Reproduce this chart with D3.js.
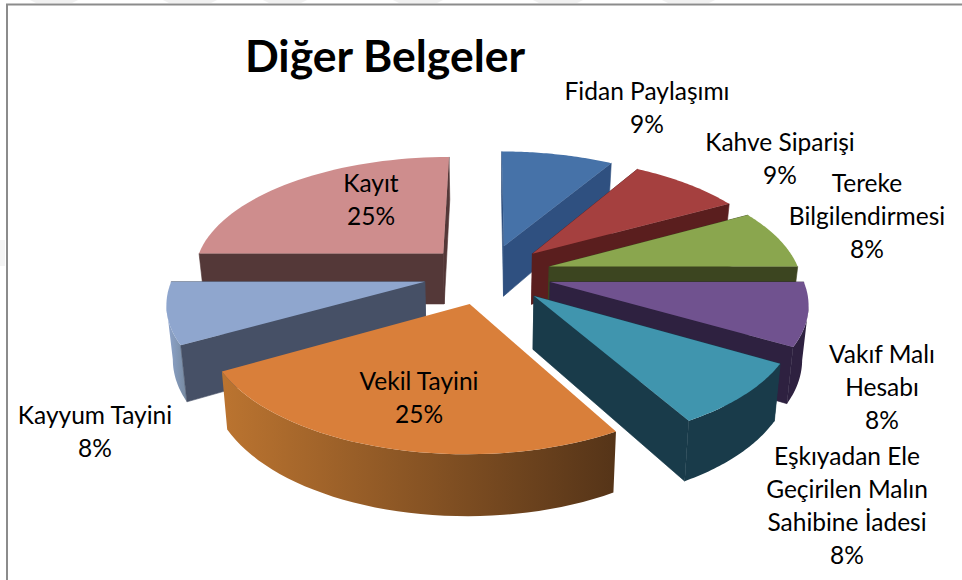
<!DOCTYPE html>
<html lang="tr">
<head>
<meta charset="utf-8">
<script src="https://cdn.jsdelivr.net/npm/d3@7/dist/d3.min.js"></script>
<style>
html,body{margin:0;padding:0;background:#fff;overflow:hidden}
svg{display:block}
text{font-family:Lato,"Open Sans",sans-serif;fill:#000}
</style>
</head>
<body>
<svg id="chart" width="962" height="580"></svg>
<script>
// --- data ---
const titleText = "Diğer Belgeler";
const categories = [
  ["Fidan Paylaşımı"],
  ["Kahve Siparişi"],
  ["Tereke","Bilgilendirmesi"],
  ["Vakıf Malı","Hesabı"],
  ["Eşkıyadan Ele","Geçirilen Malın","Sahibine İadesi"],
  ["Vekil Tayini"],
  ["Kayyum Tayini"],
  ["Kayıt"]
];
const shares = [8.5, 8.5, 8.0, 8.4, 8.4, 25, 8.2, 25];

// --- palette ---
const topColors   = ["#4672a8","#a5403f","#8aa64e","#70528f","#4095ae","#d97f3a","#8fa6ce","#ce8d8d"];
const sideColors  = ["#2f5080","#5a1e1e","#3c4520","#2e2140","#193b4a","#d97f3a","#465066","#543838"];
const rimLeft     = ["#2f5080","#5a1e1e","#3c4520","#2e2140","#193b4a","#bb7430","#8fa6ce","#543838"];
const rimRight    = ["#2f5080","#5a1e1e","#3c4520","#2e2140","#193b4a","#553418","#76899f","#543838"];

// --- layout ---
const W = 962, H = 580;
const labelCentres = [[647,92],[780,143],[867,184],[882,355],[847,457],[419,382],[95,416],[371,184]];
const lineStep = 33;
const paintOrder = [7,0,1,2,6,3,4,5];
const cx = 487.5, cy = 274, radius = 251, explode = 0.256, tiltA = 117, persp = 0.153;
const faintBands = [[30,78],[163,217],[263,307],[393,443],[533,583],[662,715]];

const svg = d3.select("#chart");
const defs = svg.append("defs");

// frame and the faint marks outside it
svg.append("rect").attr("width",W).attr("height",H).attr("fill","#fff");
svg.append("g").selectAll("path").data(faintBands).join("path")
  .attr("d",d=>`M${d[0]} 0H${d[1]}L${d[1]-6} 3H${d[0]+6}Z`).attr("fill","#f1f1f1");
svg.append("path").attr("d","M0 240H5V266H0Z").attr("fill","#f4f4f4");
svg.append("path").attr("d",`M7 ${H}V4.5H${W}`).attr("fill","none").attr("stroke","#8c8c8c").attr("stroke-width",2);

const pie = d3.pie().sort(null).value(d=>d).startAngle(0).endAngle(2*Math.PI);
const arcs = pie(shares);

// world (unit disc, +y toward viewer) -> screen
const sx = d3.scaleLinear().domain([0,1]).range([cx,cx+radius]);
function proj(x,t){
  const s = 1/(1-persp*t);
  return [sx(x*s), cy + tiltA*t*s];
}
function projBottom(x,t){
  const p = proj(x,t);
  const depth = 52 + 8*t;
  return [cx+(p[0]-cx)*0.98, p[1]+depth];
}
const line = d3.line();

arcs.forEach(a=>{
  const mid = (a.startAngle+a.endAngle)/2;
  const ox = explode*Math.sin(mid), oy = -explode*Math.cos(mid);
  const polar = (ang)=>[ox+Math.sin(ang), oy-Math.cos(ang)];
  a.tip = [ox,oy];
  a.rim = d3.range(0,41).map(j=>polar(a.startAngle+(a.endAngle-a.startAngle)*j/40));
  a.polar = polar;
});

const gSlices = svg.append("g");
paintOrder.forEach(idx=>{
  const a = arcs[idx];
  const g = gSlices.append("g");
  const top = p=>proj(p[0],p[1]);
  const bot = p=>projBottom(p[0],p[1]);
  const first = a.rim[0], last = a.rim[a.rim.length-1];

  const wall = (p)=>{
    g.append("path")
      .attr("d",line([top(a.tip),top(p),bot(p),bot(a.tip)])+"Z")
      .attr("fill",sideColors[idx])
      .attr("stroke",sideColors[idx]).attr("stroke-width",0.6);
  };
  const startFacing = -Math.cos(a.startAngle-Math.PI/2) > 0;
  const endFacing = -Math.cos(a.endAngle+Math.PI/2) > 0;
  if(!startFacing && idx!==5) wall(first);
  if(!endFacing && idx!==5) wall(last);

  // rim wall: only the part between the silhouette tangents of its front half
  const lo = Math.max(a.startAngle, Math.PI/2), hi = Math.min(a.endAngle, 3*Math.PI/2);
  if(hi>lo){
    const pts = d3.range(0,41).map(j=>a.polar(lo+(hi-lo)*j/40));
    const all = pts.map(top);
    const iR = d3.maxIndex(all,p=>p[0]), iL = d3.minIndex(all,p=>p[0]);
    const span = pts.slice(Math.min(iR,iL), Math.max(iR,iL)+1);
    const upper = span.map(top), lower = span.map(bot);
    const xs = upper.concat(lower).map(p=>p[0]);
    const gid = "rim"+idx;
    const lg = defs.append("linearGradient").attr("id",gid)
      .attr("gradientUnits","userSpaceOnUse")
      .attr("x1",d3.min(xs)).attr("x2",d3.max(xs)).attr("y1",0).attr("y2",0);
    lg.append("stop").attr("offset",0).attr("stop-color",rimLeft[idx]);
    lg.append("stop").attr("offset",1).attr("stop-color",rimRight[idx]);
    g.append("path")
      .attr("d",line(upper.concat(lower.slice().reverse()))+"Z")
      .attr("fill",`url(#${gid})`);
  }
  if(startFacing) wall(first);
  if(endFacing) wall(last);

  g.append("path")
    .attr("d",line([top(a.tip)].concat(a.rim.map(top)))+"Z")
    .attr("fill",topColors[idx]);
});

// title
svg.append("text").attr("x",385).attr("y",72).attr("text-anchor","middle")
  .attr("font-size",44.5).attr("font-weight",700).text(titleText);

// labels
const gLabels = svg.append("g").attr("font-size",24.5).attr("text-anchor","middle");
categories.forEach((lines,i)=>{
  const [lx,ly] = labelCentres[i];
  const all = lines.concat([Math.round(shares[i])+"%"]);
  all.forEach((t,j)=>{
    gLabels.append("text").attr("x",lx).attr("y",ly+j*lineStep+8).text(t);
  });
});
</script>
</body>
</html>
